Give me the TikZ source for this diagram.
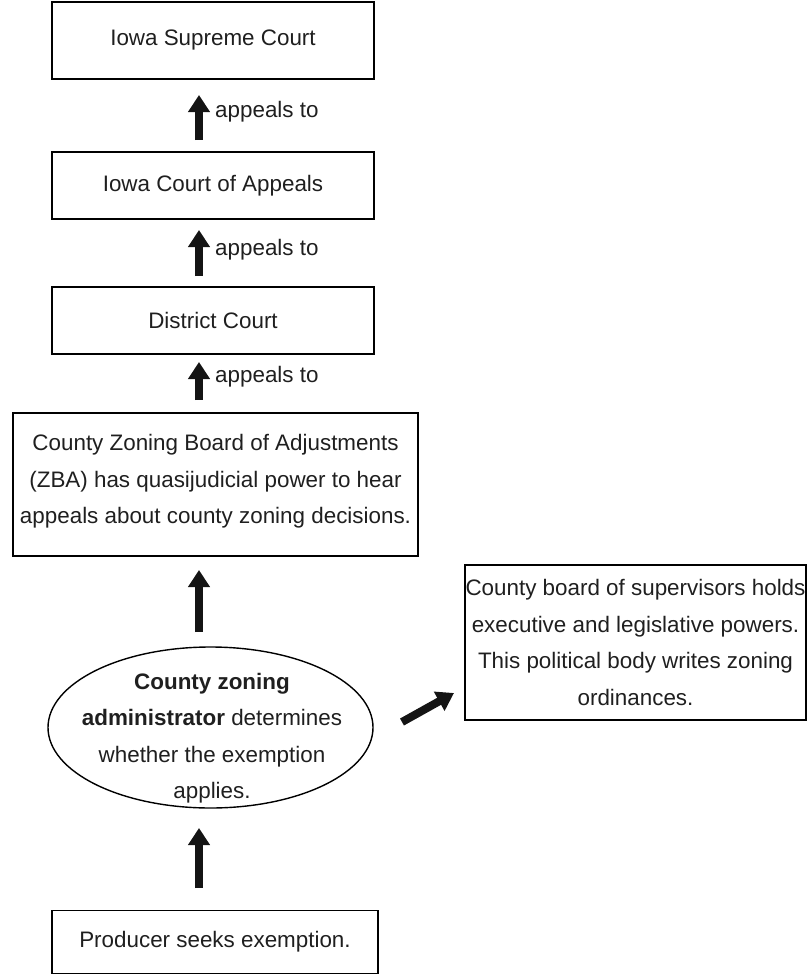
\documentclass[tikz,border=0pt]{standalone}
\usepackage{fontspec}
\setmainfont{Liberation Sans}
\usetikzlibrary{arrows.meta,shapes.geometric}
\begin{document}
\begin{tikzpicture}[x=1pt,y=-1pt,
  every node/.style={font=\fontsize{22.4}{36.5}\selectfont, text=black!88},
  box/.style={draw, line width=1.4pt, inner sep=0pt, align=center},
  bigarrow/.style={line width=8pt, -{Triangle[length=17pt,width=21pt]}, black!92},
  lbl/.style={anchor=west, inner sep=0pt}]
\useasboundingbox (0,0) rectangle (807,974);
\node[box, minimum width=322pt, minimum height=77pt] (supreme) at (213,40.5) {Iowa Supreme Court};
\node[box, minimum width=322pt, minimum height=67pt] (appeals) at (213,185.5) {Iowa Court of Appeals};
\node[box, minimum width=322pt, minimum height=67pt] (district) at (213,320.5) {District Court};
\node[box, minimum width=405pt, minimum height=143pt] (zba) at (215.5,484.5) {};
\node[align=center, inner sep=0pt] (zbatext) at (215.5,481.5)
  {County Zoning Board of Adjustments\\(ZBA) has quasijudicial power to hear\\appeals about county zoning decisions.};
\node[draw, line width=1.4pt, ellipse, minimum width=325pt, minimum height=161pt, inner sep=0pt] (adminshape) at (210.5,727.5) {};
\node[align=center, inner sep=0pt] (admin) at (212,738)
  {\textbf{County zoning}\\\textbf{administrator} determines\\whether the exemption\\applies.};
\node[box, minimum width=341pt, minimum height=155pt] (board) at (635.5,642.5)
  {County board of supervisors holds\\executive and legislative powers.\\This political body writes zoning\\ordinances.};
\node[box, minimum width=326pt, minimum height=63pt] (producer) at (215,942) {Producer seeks exemption.};

\coordinate (a1s) at (199,140); \coordinate (a1e) at (199,95);
\coordinate (a2s) at (199,276); \coordinate (a2e) at (199,230);
\coordinate (a3s) at (199,400); \coordinate (a3e) at (199,362);
\coordinate (a4s) at (199,632); \coordinate (a4e) at (199,570);
\coordinate (a5s) at (199,888); \coordinate (a5e) at (199,828);
\coordinate (a6s) at (402,722); \coordinate (a6e) at (454,693);
\draw[bigarrow] (a1s) -- (a1e);
\draw[bigarrow] (a2s) -- (a2e);
\draw[bigarrow] (a3s) -- (a3e);
\draw[bigarrow] (a4s) -- (a4e);
\draw[bigarrow] (a5s) -- (a5e);
\draw[bigarrow] (a6s) -- (a6e);
\node[lbl] (l1) at (215,112) {appeals to};
\node[lbl] (l2) at (215,250) {appeals to};
\node[lbl] (l3) at (215,377) {appeals to};
\end{tikzpicture}
\end{document}
